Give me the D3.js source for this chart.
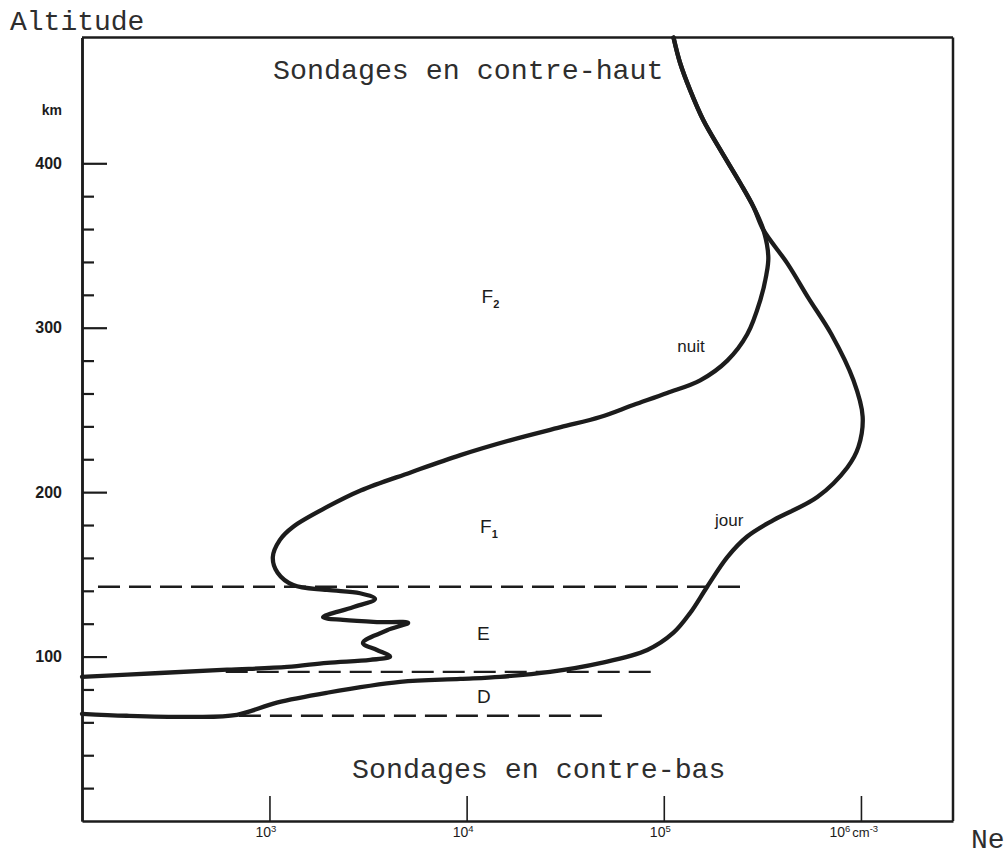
<!DOCTYPE html>
<html>
<head>
<meta charset="utf-8">
<script src="https://cdn.jsdelivr.net/npm/d3@7/dist/d3.min.js"></script>
<style>
  html, body { margin: 0; padding: 0; background: #fff; }
  svg { display: block; }
</style>
</head>
<body>
<svg id="chart" width="1008" height="859"></svg>
<script>
// ---------- data ----------
// shared upper part of both profiles (Ne in cm^-3, altitude in km)
const topNe  = [1.12e5, 1.21e5, 1.36e5, 1.59e5, 1.94e5, 2.44e5, 2.85e5, 3.2e5];
const topAlt = [476.5, 461, 444.5, 426, 408, 388, 373.5, 359.5];

// night profile (nuit) below the split
const nightNe  = [3.39e5, 3.31e5, 3.09e5, 2.65e5, 2.1e5, 1.53e5, 1.04e5, 7.0e4, 4.76e4, 3.0e4, 1.66e4, 9.3e3, 5.2e3, 2.9e3, 1.96e3, 1.32e3, 1.13e3, 1.04e3, 1.1e3, 1.32e3, 1.96e3, 2.88e3, 3.43e3, 2.65e3, 1.87e3, 2.36e3, 3.51e3, 5.05e3, 3.95e3, 2.98e3, 3.51e3, 4.09e3, 3.24e3, 1.96e3, 1.23e3, 610, 278, 112];
const nightAlt = [343, 332, 317, 296, 280, 268, 260.3, 253, 245.7, 239.5, 231.5, 222.5, 212, 201, 191, 179, 171, 160.5, 151, 143.5, 140.5, 138.5, 135, 130, 124, 122.3, 121, 120.5, 116, 108.3, 104, 100, 98, 96.2, 93.7, 92, 90, 87.7];

// day profile (jour) below the split
const dayNe  = [4.24e5, 5.42e5, 7.08e5, 9.16e5, 1.02e6, 9.71e5, 8.53e5, 6.01e5, 3.6e5, 2.65e5, 2.1e5, 1.66e5, 1.36e5, 1.12e5, 8.25e4, 4.76e4, 2.65e4, 1.48e4, 9.3e3, 4.6e3, 1.96e3, 1.09e3, 684, 409, 189, 112];
const dayAlt = [339, 318, 296, 268, 246, 227.5, 215, 197, 183, 173, 160.5, 142.5, 126.5, 114.5, 104, 96, 90.7, 87.7, 86.4, 84.6, 78, 72, 64.6, 63.3, 64, 65.2];

// layer boundaries (dashed)
const boundAlt  = [142.5, 90.7, 64];
const boundFrom = [135, 600, 700];
const boundTo   = [2.59e5, 8.75e4, 4.88e4];

// axes
const neDomain  = [112, 2.93e6];
const altDomain = [0, 476.5];
const altMajor  = [100, 200, 300, 400];
const altMinor  = [20, 40, 60, 80, 120, 140, 160, 180, 220, 240, 260, 280, 320, 340, 360, 380];
const neTicks   = [1e3, 1e4, 1e5, 1e6];
const neTickExp = ["3", "4", "5", "6"];

// region labels
const regionNames = ["F", "F", "E", "D"];
const regionSubs  = ["2", "1", "", ""];
const regionNe    = [1.19e4, 1.17e4, 1.13e4, 1.13e4];
const regionAlt   = [315, 175.2, 110.2, 71.9];

const curveNames = ["nuit", "jour"];
const curveLblNe = [1.17e5, 1.82e5];
const curveLblAlt = [285.2, 179.5];

// ---------- drawing ----------
const svg = d3.select("#chart");
const L = 82, R = 953, T = 37.5, B = 821;

const x = d3.scaleLog().domain(neDomain).range([L, R]);
const y = d3.scaleLinear().domain(altDomain).range([B, T]);

const ink = "#1c1c1c";
const mono = "'Liberation Mono', 'Courier New', monospace";
const sans = "'Liberation Sans', Arial, sans-serif";

// frame top and right
svg.append("line").attr("x1", x(neDomain[0])).attr("x2", x(neDomain[1]))
  .attr("y1", y(altDomain[1])).attr("y2", y(altDomain[1]))
  .attr("stroke", ink).attr("stroke-width", 2.5);
svg.append("line").attr("x1", x(neDomain[1])).attr("x2", x(neDomain[1]))
  .attr("y1", y(altDomain[1])).attr("y2", y(altDomain[0]))
  .attr("stroke", ink).attr("stroke-width", 2.5);

// left axis: minor ticks
const gMinor = svg.append("g").attr("transform", `translate(${L},0)`)
  .call(d3.axisLeft(y).tickValues(altMinor).tickSize(-12).tickSizeOuter(0).tickFormat(""));
// left axis: major ticks with labels
const gMajor = svg.append("g").attr("transform", `translate(${L},0)`)
  .call(d3.axisLeft(y).tickValues(altMajor).tickSize(-25).tickSizeOuter(0).tickPadding(20).tickFormat(d3.format("d")));
[gMinor, gMajor].forEach(g => {
  g.selectAll("path.domain").attr("stroke", ink).attr("stroke-width", 2.5);
  g.selectAll(".tick line").attr("stroke", ink).attr("stroke-width", 2.2);
});
gMajor.selectAll(".tick text").attr("fill", ink)
  .style("font-family", sans).style("font-weight", "bold").style("font-size", "16px");

// bottom axis
const gX = svg.append("g").attr("transform", `translate(0,${B})`)
  .call(d3.axisBottom(x).tickValues(neTicks).tickSize(-25).tickSizeOuter(0).tickPadding(3).tickFormat(""));
gX.selectAll("path.domain").attr("stroke", ink).attr("stroke-width", 2.5);
gX.selectAll(".tick line").attr("stroke", ink).attr("stroke-width", 1.6);
gX.selectAll(".tick text").each(function(d, i) {
  const t = d3.select(this).attr("fill", ink).attr("dy", "0.95em")
    .attr("text-anchor", i === 3 ? "start" : "middle")
    .attr("x", i === 3 ? -32 : -4)
    .style("font-family", sans).style("font-size", "14px");
  t.text(null);
  t.append("tspan").text("10");
  t.append("tspan").attr("dy", -5).style("font-size", "9.5px").text(neTickExp[i]);
  if (i === 3) {
    t.append("tspan").attr("dy", 5).attr("dx", 2).style("font-size", "13px").text("cm");
    t.append("tspan").attr("dy", -5).style("font-size", "9.5px").text("-3");
  }
});

// dashed boundaries
svg.append("g").selectAll("line").data(boundAlt).join("line")
  .attr("x1", (d, i) => x(boundFrom[i])).attr("x2", (d, i) => x(boundTo[i]))
  .attr("y1", d => y(d)).attr("y2", d => y(d))
  .attr("stroke", ink).attr("stroke-width", 2.4).attr("stroke-dasharray", "22,9");

// profiles
const line = d3.line().x(d => x(d[0])).y(d => y(d[1])).curve(d3.curveCatmullRom.alpha(0.5));
const upper = topNe.map((v, i) => [v, topAlt[i]]);
const night = upper.concat(nightNe.map((v, i) => [v, nightAlt[i]]));
const day = upper.concat(dayNe.map((v, i) => [v, dayAlt[i]]));
svg.append("g").selectAll("path").data([night, day]).join("path")
  .attr("d", line).attr("fill", "none").attr("stroke", ink)
  .attr("stroke-width", 4.3).attr("stroke-linejoin", "round").attr("stroke-linecap", "round");

// region labels
regionNames.forEach((n, i) => {
  const t = svg.append("text").attr("x", x(regionNe[i])).attr("y", y(regionAlt[i]))
    .attr("fill", ink).style("font-family", sans).style("font-size", "19px").text(n);
  if (regionSubs[i]) t.append("tspan").attr("dy", 5).style("font-size", "11px").style("font-weight", "bold").text(regionSubs[i]);
});
curveNames.forEach((n, i) => {
  svg.append("text").attr("x", x(curveLblNe[i])).attr("y", y(curveLblAlt[i]))
    .attr("fill", ink).style("font-family", sans).style("font-size", "17px").text(n);
});

// texts
const thin = "#2e2e2e";
svg.append("text").attr("x", 10).attr("y", 30).attr("fill", thin)
  .style("font-family", mono).style("font-size", "28px").text("Altitude");
svg.append("text").attr("x", 62).attr("y", 115).attr("text-anchor", "end").attr("fill", ink)
  .style("font-family", sans).style("font-weight", "bold").style("font-size", "14px").text("km");
svg.append("text").attr("x", 273).attr("y", 79).attr("fill", thin)
  .style("font-family", mono).style("font-size", "28.3px").text("Sondages en contre-haut");
svg.append("text").attr("x", 352).attr("y", 778).attr("fill", thin)
  .style("font-family", mono).style("font-size", "28.3px").text("Sondages en contre-bas");
svg.append("text").attr("x", 971).attr("y", 848).attr("fill", thin)
  .style("font-family", mono).style("font-size", "28px").text("Ne");
</script>
</body>
</html>
